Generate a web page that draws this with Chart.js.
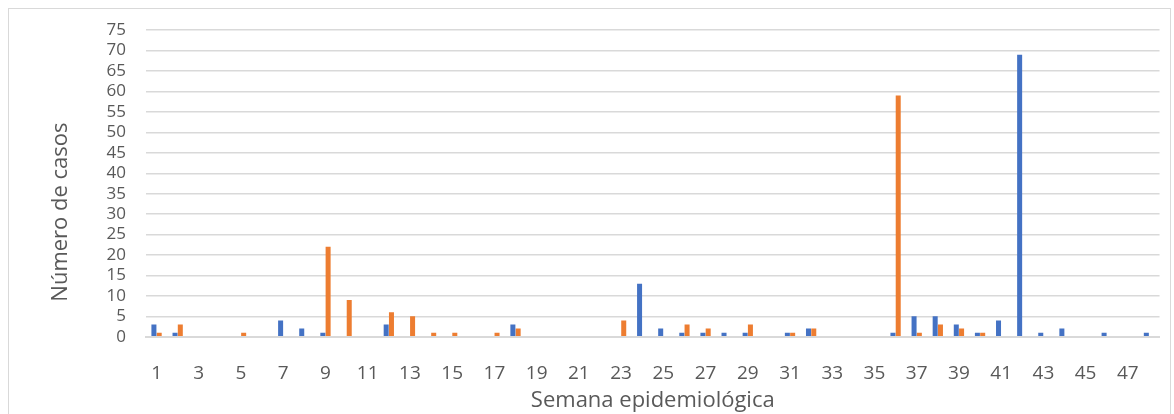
<!DOCTYPE html>
<html>
<head>
<meta charset="utf-8">
<script src="https://cdn.jsdelivr.net/npm/chart.js@4.4.0/dist/chart.umd.min.js"></script>
<style>
  body { margin: 0; background: #fff; }
  #frame { position: absolute; left: 8px; top: 8px; width: 1163px; height: 420px; border: 1px solid #d9d9d9; box-sizing: border-box; }
  #chart { position: absolute; left: 0; top: 0; }
</style>
</head>
<body>
<div id="frame"></div>
<canvas id="chart" width="1174" height="414"></canvas>
<script>
// semanas 1..48
const semanas = [];
for (let i = 1; i <= 48; i++) semanas.push(String(i));

const serieAzul = [3,1,0,0,0,0,4,2,1,0,0,3,0,0,0,0,0,3,0,0,0,0,0,13,2,1,1,1,1,0,1,2,0,0,0,1,5,5,3,1,4,69,1,2,0,1,0,1];
const serieNaranja = [1,3,0,0,1,0,0,0,22,9,0,6,5,1,1,0,1,2,0,0,0,0,4,0,0,3,2,0,3,0,1,2,0,0,0,59,1,3,2,1,0,0,0,0,0,0,0,0];

const yTicks = [0,5,10,15,20,25,30,35,40,45,50,55,60,65,70,75];

const font = "'Open Sans', 'Noto Sans', sans-serif";
const gris = "#595959";

new Chart(document.getElementById("chart"), {
  type: "bar",
  data: {
    labels: semanas,
    datasets: [
      { data: serieAzul, backgroundColor: "#4472c4", categoryPercentage: 0.5, barPercentage: 0.95 },
      { data: serieNaranja, backgroundColor: "#ed7d31", categoryPercentage: 0.5, barPercentage: 0.95 }
    ]
  },
  options: {
    responsive: false,
    animation: false,
    layout: { padding: { left: 20, right: 3, top: 22, bottom: 0 } },
    plugins: { legend: { display: false }, tooltip: { enabled: false } },
    scales: {
      x: {
        grid: { display: false, drawTicks: false },
        border: { display: true, color: "#d9d9d9", width: 2 },
        ticks: {
          color: gris, font: { family: font, size: 19 }, padding: 25,
          autoSkip: false, maxRotation: 0,
          callback: (v, i) => (i % 2 === 0 ? semanas[i] : "")
        },
        title: { display: true, text: "Semana epidemiológica", color: gris, font: { family: font, size: 22 }, padding: { top: -22, bottom: 0 } }
      },
      y: {
        min: 0, max: 75,
        afterBuildTicks: s => { s.ticks = yTicks.map(v => ({ value: v })); },
        afterFit: s => { s.width = 126; },
        grid: { color: "#d9d9d9", lineWidth: 1.5, drawTicks: false },
        border: { display: false },
        ticks: { color: gris, font: { family: font, size: 17 }, padding: 20, autoSkip: false },
        // espacios al final para bajar el título como en el original
        title: { display: true, text: "Número de casos          ", color: gris, font: { family: font, size: 22 }, padding: { top: 28, bottom: 0 } }
      }
    }
  }
});
</script>
</body>
</html>
